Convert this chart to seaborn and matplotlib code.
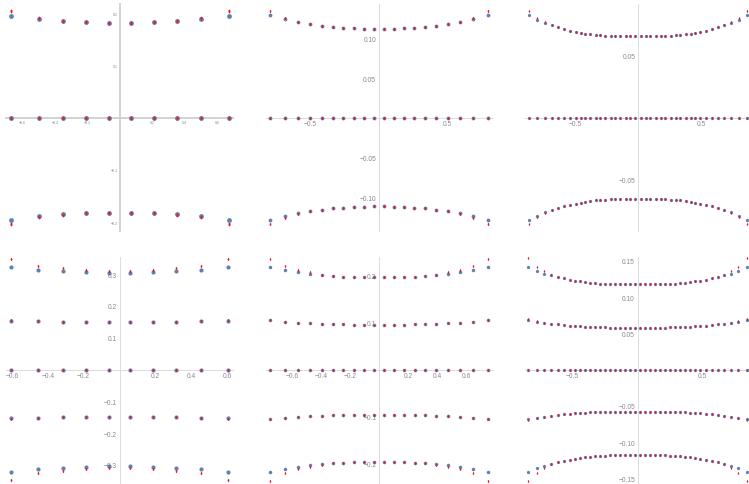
import numpy as np
import matplotlib
matplotlib.use("Agg")
import matplotlib.pyplot as plt
from matplotlib.ticker import MultipleLocator
import pandas as pd
import seaborn as sns

sns.set_theme(style="white")
plt.rcParams["font.family"] = ["Liberation Sans", "DejaVu Sans"]
plt.rcParams["axes.unicode_minus"] = True

BLUE = "#5E81B5"
RED = "#F5141E"
AXIS_GREY = "#DCDCDC"
LABEL_GREY = "#8A8A8A"

# Node positions (positive half, centre outwards) and level profiles.
# Every panel is symmetric in x and in y, so only one quarter is listed.

# --- 10 nodes, 3 levels
tl_x = [0.068, 0.207, 0.349, 0.501, 0.672]
tl_outer = [0.1820, 0.1828, 0.1853, 0.1890, 0.1956]
tl_outer_red = [0.1820, 0.1828, 0.1856, 0.1910, 0.2035]

# --- 20 nodes, 3 levels
tm_x = [0.036, 0.110, 0.183, 0.259, 0.336, 0.415, 0.499, 0.588, 0.682, 0.791]
tm_outer = [0.1117, 0.1121, 0.1126, 0.1134, 0.1142, 0.1160, 0.1180, 0.1205, 0.1240, 0.1290]
tm_outer_red = [0.1117, 0.1121, 0.1126, 0.1134, 0.1142, 0.1160, 0.1181, 0.1208, 0.1260, 0.1344]

# --- 40 nodes, 3 levels
tr_x = [0.020, 0.060, 0.099, 0.139, 0.179, 0.218, 0.258, 0.298, 0.337, 0.377,
        0.417, 0.456, 0.496, 0.540, 0.586, 0.634, 0.686, 0.742, 0.800, 0.868]
tr_outer = [0.0656, 0.0656, 0.0656, 0.0656, 0.0657, 0.0659, 0.0660, 0.0663, 0.0667, 0.0672,
            0.0677, 0.0685, 0.0694, 0.0702, 0.0715, 0.0729, 0.0745, 0.0764, 0.0790, 0.0826]
tr_outer_red = [0.0656, 0.0656, 0.0656, 0.0656, 0.0657, 0.0659, 0.0660, 0.0663, 0.0667, 0.0672,
                0.0677, 0.0685, 0.0694, 0.0702, 0.0715, 0.0729, 0.0746, 0.0768, 0.0804, 0.0860]

# --- 10 nodes, 5 levels
bl_x = [0.061, 0.188, 0.316, 0.453, 0.607]
bl_outer = [0.305, 0.306, 0.309, 0.313, 0.321]
bl_outer_red = [0.309, 0.312, 0.318, 0.326, 0.348]
bl_inner = [0.148, 0.148, 0.149, 0.151, 0.154]
bl_inner_red = [0.148, 0.148, 0.149, 0.151, 0.155]

# --- 20 nodes, 5 levels
bm_x = [0.0345, 0.1045, 0.1735, 0.2465, 0.3185, 0.3945, 0.4735, 0.5575, 0.6475, 0.7505]
bm_outer = [0.1966, 0.1966, 0.1970, 0.1980, 0.1994, 0.2015, 0.2036, 0.2070, 0.2120, 0.2180]
bm_outer_red = [0.1966, 0.1966, 0.1970, 0.1980, 0.1994, 0.2020, 0.2070, 0.2120, 0.2200, 0.2360]
bm_inner = [0.0958, 0.0958, 0.0960, 0.0965, 0.0972, 0.0979, 0.0986, 0.1000, 0.1020, 0.1050]
bm_inner_red = [0.0958, 0.0958, 0.0960, 0.0965, 0.0972, 0.0979, 0.0986, 0.1000, 0.1022, 0.1056]

# --- 40 nodes, 5 levels
br_x = [0.019, 0.058, 0.096, 0.135, 0.173, 0.211, 0.250, 0.289, 0.327, 0.365,
        0.404, 0.442, 0.481, 0.523, 0.568, 0.614, 0.665, 0.719, 0.775, 0.841]
br_outer = [0.1176, 0.1176, 0.1176, 0.1176, 0.1177, 0.1180, 0.1182, 0.1186, 0.1191, 0.1198,
            0.1205, 0.1216, 0.1228, 0.1239, 0.1257, 0.1276, 0.1299, 0.1325, 0.1360, 0.1410]
br_outer_red = [0.1176, 0.1176, 0.1176, 0.1176, 0.1177, 0.1180, 0.1182, 0.1186, 0.1191, 0.1198,
                0.1205, 0.1216, 0.1228, 0.1239, 0.1257, 0.1278, 0.1305, 0.1360, 0.1420, 0.1534]
br_inner = [0.0579, 0.0579, 0.0579, 0.0579, 0.0580, 0.0581, 0.0582, 0.0583, 0.0586, 0.0589,
            0.0592, 0.0597, 0.0603, 0.0608, 0.0616, 0.0624, 0.0635, 0.0646, 0.0663, 0.0685]
br_inner_red = [0.0579, 0.0579, 0.0579, 0.0579, 0.0580, 0.0581, 0.0582, 0.0583, 0.0586, 0.0589,
                0.0592, 0.0597, 0.0603, 0.0608, 0.0616, 0.0624, 0.0635, 0.0647, 0.0666, 0.0695]

# Tick values and their labels
tl_xticks = [-0.6, -0.4, -0.2, 0.2, 0.4, 0.6]
tl_xlabels = ["\u22120.6", "\u22120.4", "\u22120.2", "0.2", "0.4", "0.6"]
tl_yticks = [-0.2, -0.1, 0.1, 0.2]
tl_ylabels = ["\u22120.2", "\u22120.1", "0.1", "0.2"]
tm_xticks = [-0.5, 0.5]
tm_xlabels = ["\u22120.5", "0.5"]
tm_yticks = [-0.10, -0.05, 0.05, 0.10]
tm_ylabels = ["\u22120.10", "\u22120.05", "0.05", "0.10"]
tr_xticks = [-0.5, 0.5]
tr_xlabels = ["\u22120.5", "0.5"]
tr_yticks = [-0.05, 0.05]
tr_ylabels = ["\u22120.05", "0.05"]
bl_xticks = [-0.6, -0.4, -0.2, 0.2, 0.4, 0.6]
bl_xlabels = ["\u22120.6", "\u22120.4", "\u22120.2", "0.2", "0.4", "0.6"]
bl_yticks = [-0.3, -0.2, -0.1, 0.1, 0.2, 0.3]
bl_ylabels = ["\u22120.3", "\u22120.2", "\u22120.1", "0.1", "0.2", "0.3"]
bm_xticks = [-0.6, -0.4, -0.2, 0.2, 0.4, 0.6]
bm_xlabels = ["\u22120.6", "\u22120.4", "\u22120.2", "0.2", "0.4", "0.6"]
bm_yticks = [-0.2, -0.1, 0.1, 0.2]
bm_ylabels = ["\u22120.2", "\u22120.1", "0.1", "0.2"]
br_xticks = [-0.5, 0.5]
br_xlabels = ["\u22120.5", "0.5"]
br_yticks = [-0.15, -0.10, -0.05, 0.05, 0.10, 0.15]
br_ylabels = ["\u22120.15", "\u22120.10", "\u22120.05", "0.05", "0.10", "0.15"]


def full_x(half):
    return [-v for v in reversed(half)] + list(half)


def full_profile(half):
    return list(reversed(half)) + list(half)


def build_frame(x_half, levels):
    """levels: list of half-profiles for the positive levels (outermost first)."""
    xs = full_x(x_half)
    rows = []
    for prof in levels:
        ys = full_profile(prof)
        rows += [(x, y) for x, y in zip(xs, ys)]
        rows += [(x, -y) for x, y in zip(xs, ys)]
    rows += [(x, 0.0) for x in xs]
    return pd.DataFrame(rows, columns=["x", "y"])


W, H = 749, 485
fig = plt.figure(figsize=(W / 100, H / 100), dpi=100)
fig.patch.set_facecolor("white")

theta = np.linspace(0, 2 * np.pi, 25)
red_marker = list(zip(0.55 * np.cos(theta), np.sin(theta)))

# (box in px: left, top, right, bottom), origin px, px per unit, styling
panels = [
    dict(box=(6, 5, 233, 232), x0=120.0, sx=162.0, y0=118.7, sy=522.0,
         blue=build_frame(tl_x, [tl_outer]), red=build_frame(tl_x, [tl_outer_red]),
         xt=(tl_xticks, tl_xlabels), yt=(tl_yticks, tl_ylabels),
         bs=12, rs=7.5, fs=2.6, lw=1.4, ac="#D2D2D2", xminor=0.1, yminor=0.02, small=True),
    dict(box=(266, 5, 493, 232), x0=378.8, sx=137.7, y0=118.7, sy=794.0,
         blue=build_frame(tm_x, [tm_outer]), red=build_frame(tm_x, [tm_outer_red]),
         xt=(tm_xticks, tm_xlabels), yt=(tm_yticks, tm_ylabels),
         bs=7.5, rs=4.8, fs=4.8, lw=0.7, ac=AXIS_GREY, xminor=None, yminor=None, small=False),
    dict(box=(525, 5, 749, 232), x0=638.0, sx=126.0, y0=118.7, sy=1240.0,
         blue=build_frame(tr_x, [tr_outer]), red=build_frame(tr_x, [tr_outer_red]),
         xt=(tr_xticks, tr_xlabels), yt=(tr_yticks, tr_ylabels),
         bs=5.5, rs=3.7, fs=4.8, lw=0.7, ac=AXIS_GREY, xminor=None, yminor=None, small=False),
    dict(box=(6, 258, 233, 485), x0=119.5, sx=179.0, y0=370.5, sy=318.0,
         blue=build_frame(bl_x, [bl_outer, bl_inner]), red=build_frame(bl_x, [bl_outer_red, bl_inner_red]),
         xt=(bl_xticks, bl_xlabels), yt=(bl_yticks, bl_ylabels),
         bs=9, rs=4.8, fs=4.8, lw=0.7, ac=AXIS_GREY, xminor=None, yminor=None, small=False),
    dict(box=(266, 258, 493, 485), x0=379.0, sx=145.0, y0=370.7, sy=470.0,
         blue=build_frame(bm_x, [bm_outer, bm_inner]), red=build_frame(bm_x, [bm_outer_red, bm_inner_red]),
         xt=(bm_xticks, bm_xlabels), yt=(bm_yticks, bm_ylabels),
         bs=6.5, rs=4.0, fs=4.8, lw=0.7, ac=AXIS_GREY, xminor=None, yminor=None, small=False),
    dict(box=(525, 258, 749, 485), x0=637.7, sx=130.0, y0=370.7, sy=726.0,
         blue=build_frame(br_x, [br_outer, br_inner]), red=build_frame(br_x, [br_outer_red, br_inner_red]),
         xt=(br_xticks, br_xlabels), yt=(br_yticks, br_ylabels),
         bs=5.5, rs=3.5, fs=4.8, lw=0.7, ac=AXIS_GREY, xminor=None, yminor=None, small=False),
]

for p in panels:
    l, t, r, b = p["box"]
    ax = fig.add_axes([l / W, 1 - b / H, (r - l) / W, (b - t) / H])
    ax.set_facecolor("none")
    ax.set_xlim((l - p["x0"]) / p["sx"], (r - p["x0"]) / p["sx"])
    ax.set_ylim((p["y0"] - b) / p["sy"], (p["y0"] - t) / p["sy"])

    sns.scatterplot(data=p["blue"], x="x", y="y", ax=ax, color=BLUE, s=p["bs"],
                    linewidth=0, clip_on=False, zorder=3)
    sns.scatterplot(data=p["red"], x="x", y="y", ax=ax, color=RED, s=p["rs"],
                    marker=red_marker, linewidth=0, clip_on=False, zorder=4)

    for side in ("top", "right"):
        ax.spines[side].set_visible(False)
    for side in ("left", "bottom"):
        ax.spines[side].set_position(("data", 0))
        ax.spines[side].set_color(p["ac"])
        ax.spines[side].set_linewidth(p["lw"])
        ax.spines[side].set_zorder(1)

    ax.set_xticks(p["xt"][0], labels=p["xt"][1])
    ax.set_yticks(p["yt"][0], labels=p["yt"][1])
    if p["xminor"]:
        ax.xaxis.set_minor_locator(MultipleLocator(p["xminor"]))
        ax.yaxis.set_minor_locator(MultipleLocator(p["yminor"]))
    ax.tick_params(axis="both", which="major", direction="inout",
                   length=2.0 if p["small"] else 1.5, width=0.5, color="#C8C8C8",
                   labelsize=p["fs"], labelcolor=LABEL_GREY,
                   pad=0.6 if p["small"] else 1.2)
    ax.tick_params(axis="both", which="minor", direction="inout",
                   length=1.0, width=0.4, color="#D0D0D0")
    ax.set_xlabel("")
    ax.set_ylabel("")
    ax.grid(False)
    if ax.get_legend() is not None:
        ax.get_legend().remove()

fig.savefig("out.png", dpi=100, facecolor="white")
